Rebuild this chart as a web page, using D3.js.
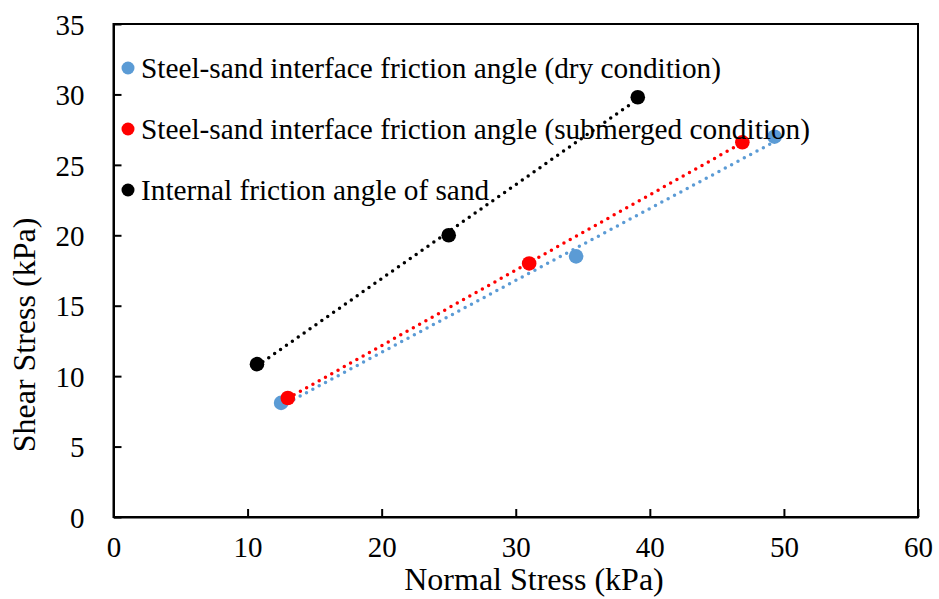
<!DOCTYPE html>
<html><head><meta charset="utf-8">
<script src="https://cdn.jsdelivr.net/npm/d3@7"></script>
<style>
body{margin:0;background:#fff;}
text{font-family:"Liberation Serif","Times New Roman",serif;fill:#000;}
</style></head>
<body>
<svg id="chart" width="939" height="599"></svg>
<script>
const seriesNames = [
  "Steel-sand interface friction angle (dry condition)",
  "Steel-sand interface friction angle (submerged condition)",
  "Internal friction angle of sand"
];
const seriesColors = ["#5b9bd5", "#ff0000", "#000000"];
const dryX = [12.5, 34.5, 49.3];
const dryY = [8.1, 18.5, 27.0];
const subX = [13.0, 31.0, 46.9];
const subY = [8.45, 18.0, 26.6];
const sandX = [10.7, 25.0, 39.1];
const sandY = [10.85, 20.0, 29.8];
const xTicks = [0, 10, 20, 30, 40, 50, 60];
const yTicks = [0, 5, 10, 15, 20, 25, 30, 35];

const series = [
  {name: seriesNames[0], color: seriesColors[0], xs: dryX, ys: dryY},
  {name: seriesNames[1], color: seriesColors[1], xs: subX, ys: subY},
  {name: seriesNames[2], color: seriesColors[2], xs: sandX, ys: sandY}
];

const svg = d3.select("#chart");
const L = 113.5, R = 918, T = 24, B = 517;
const x = d3.scaleLinear().domain([0, 60]).range([L, R]);
const y = d3.scaleLinear().domain([0, 35]).range([B, T]);

// frame
svg.append("rect").attr("x", L).attr("y", T).attr("width", R - L).attr("height", B - T)
  .attr("fill", "none").attr("stroke", "#000").attr("stroke-width", 2);

// axes
const xa = svg.append("g").attr("transform", `translate(0,${B})`)
  .call(d3.axisBottom(x).tickValues(xTicks).tickSizeInner(-8).tickSizeOuter(0).tickPadding(19));
const ya = svg.append("g").attr("transform", `translate(${L},0)`)
  .call(d3.axisLeft(y).tickValues(yTicks).tickSizeInner(-8).tickSizeOuter(0).tickPadding(29));
[xa, ya].forEach(g => {
  g.select(".domain").attr("stroke", "#000").attr("stroke-width", 2);
  g.selectAll(".tick line").attr("stroke", "#000").attr("stroke-width", 2);
  g.selectAll(".tick text").style("font-family", '"Liberation Serif", serif').style("font-size", "29px").attr("fill", "#000");
});
xa.selectAll(".tick text").attr("dy", "0.71em");
ya.selectAll(".tick text").attr("dy", "0.35em");

// trendlines (least squares fit over each series' data)
function fit(xs, ys) {
  const n = xs.length, mx = d3.mean(xs), my = d3.mean(ys);
  let sxy = 0, sxx = 0;
  for (let i = 0; i < n; i++) { sxy += (xs[i]-mx)*(ys[i]-my); sxx += (xs[i]-mx)**2; }
  const m = sxy / sxx; return {m, b: my - m*mx};
}
series.forEach(s => {
  const f = fit(s.xs, s.ys);
  const x0 = d3.min(s.xs), x1 = d3.max(s.xs);
  svg.append("line")
    .attr("x1", x(x0)).attr("y1", y(f.m*x0+f.b))
    .attr("x2", x(x1)).attr("y2", y(f.m*x1+f.b))
    .attr("stroke", s.color).attr("stroke-width", 3.5)
    .attr("stroke-linecap", "round").attr("stroke-dasharray", "0 7.2");
});
// points
series.forEach(s => {
  svg.append("g").selectAll("circle").data(s.xs.map((v,i)=>[v, s.ys[i]])).join("circle")
    .attr("cx", d => x(d[0])).attr("cy", d => y(d[1])).attr("r", 7.3).attr("fill", s.color);
});

// legend
const legY = [68, 129, 190];
series.forEach((s, i) => {
  svg.append("circle").attr("cx", 128).attr("cy", legY[i]).attr("r", 6.5).attr("fill", s.color);
  svg.append("text").attr("x", 141).attr("y", legY[i]).attr("dy", "0.33em")
    .style("font-size", "29.3px").text(s.name);
});

// axis titles
svg.append("text").attr("x", 534).attr("y", 590).attr("text-anchor", "middle")
  .style("font-size", "32px").text("Normal Stress (kPa)");
svg.append("text").attr("transform", `translate(35,335) rotate(-90)`).attr("text-anchor", "middle")
  .style("font-size", "32px").text("Shear Stress (kPa)");
</script>
</body></html>
